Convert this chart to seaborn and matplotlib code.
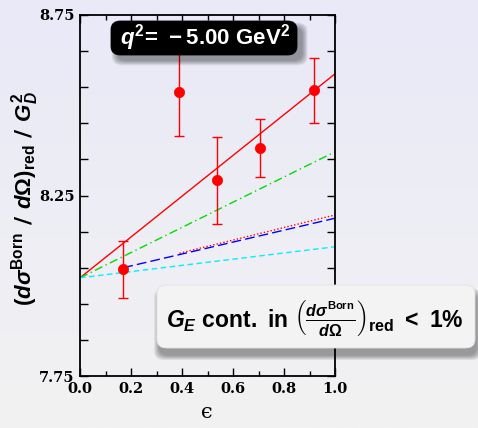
import numpy as np
import pandas as pd
import matplotlib
matplotlib.use("Agg")
import matplotlib.pyplot as plt
import seaborn as sns
from matplotlib.patches import FancyBboxPatch

# ---------------- data ----------------
eps = [0.170, 0.389, 0.537, 0.705, 0.919]
sigma_red = [8.046, 8.538, 8.292, 8.382, 8.542]
sigma_err = [0.079, 0.123, 0.120, 0.080, 0.090]

line_names = ["total", "green", "reddot", "blue", "cyan"]
line_x0 = [0.0, 0.0, 0.39, 0.17, 0.0]
line_x1 = [1.0, 1.0, 1.0, 1.0, 1.0]
line_y0 = [8.022, 8.022, 8.090, 8.050, 8.022]
line_y1 = [8.587, 8.371, 8.196, 8.187, 8.108]
line_colors = ["#ff0000", "#00dd00", "#ff0000", "#0000ff", "#00f0ff"]
line_styles = ["-", (0, (6, 2.5, 1, 2.5)), (0, (1, 1.5)), (0, (7, 3)), (0, (4, 2.5))]

xticks_major = [0.0, 0.2, 0.4, 0.6, 0.8, 1.0]
xtick_labels = ["0.0", "0.2", "0.4", "0.6", "0.8", "1.0"]
yticks = [7.75, 7.85, 7.95, 8.05, 8.15, 8.25, 8.35, 8.45, 8.55, 8.65, 8.75]
ytick_labels = ["7.75", "", "", "", "", "8.25", "", "", "", "", "8.75"]

# ---------------- style ----------------
sns.set_theme(style="ticks")
plt.rcParams["font.family"] = ["Liberation Sans", "DejaVu Sans"]
plt.rcParams["mathtext.fontset"] = "custom"
plt.rcParams["mathtext.rm"] = "Liberation Sans:bold"
plt.rcParams["mathtext.it"] = "Liberation Sans:bold:italic"
plt.rcParams["mathtext.bf"] = "Liberation Sans:bold"
plt.rcParams["mathtext.sf"] = "Liberation Sans:bold"

fig = plt.figure(figsize=(4.78, 4.28), dpi=100)

# gradient background
ax_bg = fig.add_axes([0, 0, 1, 1], zorder=-10)
top = np.array([233, 233, 248]) / 255
bot = np.array([242, 242, 242]) / 255
t = np.linspace(0, 1, 256)[:, None]
grad = top[None, :] * (1 - t) + bot[None, :] * t
ax_bg.imshow(grad[:, None, :].repeat(2, axis=1), aspect="auto", extent=[0, 1, 0, 1])
ax_bg.set_axis_off()

ax = fig.add_axes([80 / 478, 1 - 376 / 428, 255 / 478, 361 / 428])
ax.set_facecolor("none")

for i, name in enumerate(line_names):
    df = pd.DataFrame({"x": [line_x0[i], line_x1[i]], "y": [line_y0[i], line_y1[i]]})
    sns.lineplot(data=df, x="x", y="y", color=line_colors[i], linestyle=line_styles[i],
                 linewidth=1.0, ax=ax, zorder=2)

ax.errorbar(eps, sigma_red, yerr=sigma_err, fmt="none", ecolor="red",
            elinewidth=1.0, capsize=3.6, capthick=1.0, zorder=3)
sns.scatterplot(x=eps, y=sigma_red, color="red", edgecolor="red", s=55,
                linewidth=0.5, ax=ax, zorder=4)

ax.set_xlim(0, 1.0)
ax.set_ylim(7.75, 8.75)
ax.set_xticks(xticks_major)
ax.set_xticklabels(xtick_labels)
ax.set_xticks([0.1, 0.3, 0.5, 0.7, 0.9], minor=True)
ax.set_yticks(yticks)
ax.set_yticklabels(ytick_labels)
ax.tick_params(axis="both", which="major", direction="in", length=6, width=1.0,
               top=True, right=True, color="black", pad=4)
ax.tick_params(axis="x", which="minor", direction="in", length=3.5, width=1.0,
               top=True, bottom=True, color="black")
for lab in ax.get_xticklabels() + ax.get_yticklabels():
    lab.set_fontfamily("DejaVu Serif")
    lab.set_fontweight("bold")
    lab.set_fontsize(10.5)
    lab.set_color("black")
for sp in ax.spines.values():
    sp.set_visible(True)
    sp.set_linewidth(1.3)
    sp.set_color("black")

ax.set_xlabel("")
ax.set_ylabel("")
fig.text(207 / 478, 1 - 413 / 428, "\u03f5", fontsize=15, fontfamily="DejaVu Serif",
         ha="center", va="center", color="black")
fig.text(25 / 478, 1 - 199 / 428,
         r"$(d\sigma^{\mathrm{Born}}$ / $d\Omega)_{\mathrm{red}}$ / $G_D^2$",
         rotation=90, fontsize=16, fontweight="bold", family=["DejaVu Sans"],
         ha="center", va="center", color="black")


def shadowed_box(x0, y0, w, h, face, edge, rad, dx, dy, zo):
    for k in range(6):
        grow = 0.004 * k
        sh = FancyBboxPatch((x0 + dx - grow / 2, y0 + dy - grow / 2), w + grow, h + grow,
                            boxstyle=f"round,pad=0,rounding_size={rad}",
                            transform=fig.transFigure, facecolor="black",
                            edgecolor="none", alpha=0.07, zorder=zo - 1, clip_on=False)
        ax.add_artist(sh)
    box = FancyBboxPatch((x0, y0), w, h, boxstyle=f"round,pad=0,rounding_size={rad}",
                         transform=fig.transFigure, facecolor=face, edgecolor=edge,
                         linewidth=0.6, zorder=zo, clip_on=False)
    ax.add_artist(box)


# q^2 label box
shadowed_box(111 / 478, 1 - 55 / 428, 186 / 478, 34 / 428, "black", "black",
             0.02, 0.012, -0.014, 10)
ax.text(205 / 478, 1 - 38 / 428, r"$q^2\!=\,-5.00\ \mathrm{GeV}^2$", transform=fig.transFigure,
        color="white", fontsize=16, ha="center", va="center", zorder=12)

# G_E box
shadowed_box(157 / 478, 1 - 348 / 428, 318 / 478, 63 / 428, "#f3f3f3", "#e2e2e2",
             0.02, 0.004, -0.018, 10)
ax.text(315 / 478, 1 - 318 / 428,
        r"$G_E\ \mathrm{cont.\ in}\ \left(\frac{d\sigma^{\mathrm{Born}}}{d\Omega}\right)_{\mathrm{red}}\ <\ 1\%$",
        transform=fig.transFigure, color="black", fontsize=16.5,
        ha="center", va="center", zorder=12)

fig.savefig("out.png", dpi=100)
